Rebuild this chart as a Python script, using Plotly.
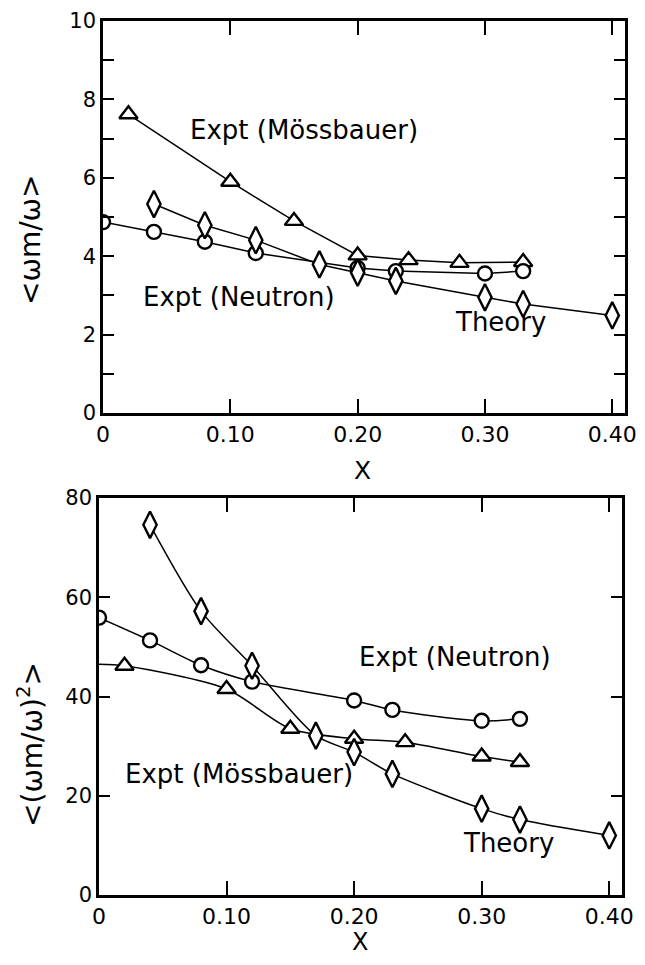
import plotly.graph_objects as go

# ---------------- data: top panel  <wm/w> ----------------
top_moss_x = [0.02, 0.10, 0.15, 0.20, 0.24, 0.28, 0.33]
top_moss_y = [7.62, 5.9, 4.9, 4.02, 3.9, 3.83, 3.85]

top_neut_x = [0.0, 0.04, 0.08, 0.12, 0.20, 0.23, 0.30, 0.33]
top_neut_y = [4.87, 4.62, 4.37, 4.08, 3.70, 3.62, 3.56, 3.62]

top_theo_x = [0.04, 0.08, 0.12, 0.17, 0.20, 0.23, 0.30, 0.33, 0.40]
top_theo_y = [5.33, 4.79, 4.41, 3.79, 3.58, 3.37, 2.95, 2.78, 2.49]

# ---------------- data: bottom panel  <(wm/w)^2> ----------------
bot_moss_x = [0.02, 0.10, 0.15, 0.20, 0.24, 0.30, 0.33]
bot_moss_y = [46.2, 41.5, 33.5, 31.5, 30.8, 27.9, 26.8]
bot_moss_curve_start = (0.0, 46.5)   # fitted curve begins at the axis

bot_neut_x = [0.0, 0.04, 0.08, 0.12, 0.20, 0.23, 0.30, 0.33]
bot_neut_y = [55.9, 51.3, 46.3, 43.0, 39.2, 37.3, 35.1, 35.5]

bot_theo_x = [0.04, 0.08, 0.12, 0.17, 0.20, 0.23, 0.30, 0.33, 0.40]
bot_theo_y = [74.6, 57.2, 46.2, 32.1, 28.8, 24.4, 17.4, 15.2, 12.0]

# ---------------- ticks ----------------
x_tickvals = [0, 0.10, 0.20, 0.30, 0.40]
x_ticktext = ["0", "0.10", "0.20", "0.30", "0.40"]
top_y_tickvals = [0, 2, 4, 6, 8, 10]
top_y_ticktext = ["0", "2", "4", "6", "8", "10"]
top_y_minorvals = [1, 3, 5, 7, 9]
bot_y_tickvals = [0, 20, 40, 60, 80]
bot_y_ticktext = ["0", "20", "40", "60", "80"]

FONT = "DejaVu Sans"
BLACK = "black"

fig = go.Figure()


def add_series(x, y, symbol, size, xa, ya, shape="linear", line_x=None, line_y=None):
    lx = line_x if line_x is not None else x
    ly = line_y if line_y is not None else y
    fig.add_trace(go.Scatter(
        x=lx, y=ly, mode="lines", xaxis=xa, yaxis=ya,
        line=dict(color=BLACK, width=1.5, shape=shape, smoothing=0.8),
        hoverinfo="skip", showlegend=False))
    fig.add_trace(go.Scatter(
        x=x, y=y, mode="markers", xaxis=xa, yaxis=ya,
        marker=dict(symbol=symbol, size=size, color="white",
                    line=dict(color=BLACK, width=2.4)),
        showlegend=False))


# top panel
add_series(top_moss_x, top_moss_y, "triangle-up", 16, "x", "y")
add_series(top_neut_x, top_neut_y, "circle", 14, "x", "y")
add_series(top_theo_x, top_theo_y, "diamond-tall", 19, "x", "y")

# bottom panel
add_series(bot_moss_x, bot_moss_y, "triangle-up", 16, "x2", "y2", shape="spline",
           line_x=[bot_moss_curve_start[0]] + bot_moss_x,
           line_y=[bot_moss_curve_start[1]] + bot_moss_y)
add_series(bot_neut_x, bot_neut_y, "circle", 14, "x2", "y2", shape="spline")
add_series(bot_theo_x, bot_theo_y, "diamond-tall", 19, "x2", "y2", shape="spline")

# the page body has an 8 px margin: the figure is drawn inside it
OFF = 8
W, H = 645 - 2 * OFF, 965 - 2 * OFF


def px(v):
    return (v - OFF) / W


def py(v):
    return 1 - (v - OFF) / H


top_dom_x = [px(103), px(625)]
top_dom_y = [py(413), py(21)]
bot_dom_x = [px(99), px(622)]
bot_dom_y = [py(895), py(498)]

xtickfont = dict(family=FONT, size=22, color=BLACK)
ytickfont = dict(family=FONT, size=21, color=BLACK)
common_axis = dict(showgrid=False, zeroline=False, showline=True, linecolor=BLACK,
                   linewidth=2.5, mirror="ticks", ticks="inside", tickcolor=BLACK,
                   tickwidth=2.2, automargin=False, ticklabeloverflow="allow")

fig.update_layout(
    width=W, height=H,
    margin=dict(l=0, r=0, t=0, b=0),
    paper_bgcolor="white", plot_bgcolor="white",
    showlegend=False,
    xaxis=dict(domain=top_dom_x, anchor="y", range=[0, 0.41], tickfont=xtickfont,
               tickvals=x_tickvals, ticktext=x_ticktext, ticklen=14, **common_axis),
    yaxis=dict(domain=top_dom_y, anchor="x", range=[0, 10], tickfont=ytickfont,
               tickvals=top_y_tickvals, ticktext=top_y_ticktext, ticklen=11,
               minor=dict(tickvals=top_y_minorvals, ticks="inside", ticklen=11,
                          tickwidth=2.2, tickcolor=BLACK, showgrid=False),
               **common_axis),
    xaxis2=dict(domain=bot_dom_x, anchor="y2", range=[0, 0.41], tickfont=xtickfont,
                tickvals=x_tickvals, ticktext=x_ticktext, ticklen=14, **common_axis),
    yaxis2=dict(domain=bot_dom_y, anchor="x2", range=[0, 80], tickfont=ytickfont,
                tickvals=bot_y_tickvals, ticktext=bot_y_ticktext, ticklen=11, **common_axis),
)

lab_font = dict(family=FONT, size=26, color=BLACK)
annotations = [
    # top panel curve labels
    dict(text="Expt (Mössbauer)", x=0.158, y=7.22, xref="x", yref="y"),
    dict(text="Expt (Neutron)", x=0.107, y=2.95, xref="x", yref="y"),
    dict(text="Theory", x=0.312, y=2.32, xref="x", yref="y"),
    # bottom panel curve labels
    dict(text="Expt (Neutron)", x=0.279, y=47.9, xref="x2", yref="y2"),
    dict(text="Expt (Mössbauer)", x=0.110, y=24.4, xref="x2", yref="y2"),
    dict(text="Theory", x=0.321, y=10.4, xref="x2", yref="y2"),
]
for a in annotations:
    a.update(showarrow=False, font=lab_font, xanchor="center", yanchor="middle")
    fig.add_annotation(**a)

# axis titles
fig.add_annotation(text="X", x=px(362), y=py(470), xref="paper", yref="paper",
                   showarrow=False, font=dict(family=FONT, size=25, color=BLACK),
                   xanchor="center", yanchor="middle")
fig.add_annotation(text="X", x=px(360), y=py(942), xref="paper", yref="paper",
                   showarrow=False, font=dict(family=FONT, size=24, color=BLACK),
                   xanchor="center", yanchor="middle")
fig.add_annotation(text="&lt;ωm/ω&gt;", x=px(30), y=py(240), xref="paper", yref="paper",
                   showarrow=False, textangle=-90, font=dict(family=FONT, size=28, color=BLACK),
                   xanchor="center", yanchor="middle")
fig.add_annotation(text="&lt;(ωm/ω)<sup>2</sup>&gt;", x=px(30), y=py(745),
                   xref="paper", yref="paper",
                   showarrow=False, textangle=-90, font=dict(family=FONT, size=28, color=BLACK),
                   xanchor="center", yanchor="middle")

fig.write_html("out.html")
